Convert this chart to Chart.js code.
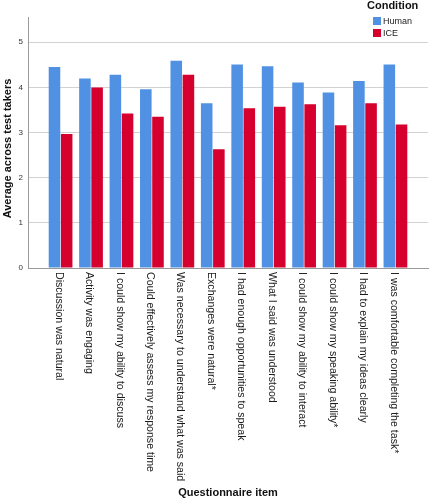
<!DOCTYPE html>
<html>
<head>
<meta charset="utf-8">
<script src="https://cdn.jsdelivr.net/npm/chart.js@4/dist/chart.umd.min.js"></script>
<style>
html,body{margin:0;padding:0;background:#fff;}
#wrap{width:430px;height:500px;position:relative;}
</style>
</head>
<body>
<div id="wrap"><canvas id="c" width="430" height="500"></canvas></div>
<script>
const items = [
  "Discussion was natural",
  "Activity was engaging",
  "I could show my ability to discuss",
  "Could effectively assess my response time",
  "Was necessary to understand what was said",
  "Exchanges were natural*",
  "I had enough opportunities to speak",
  "What I said was understood",
  "I could show my ability to interact",
  "I could show my speaking ability*",
  "I had to explain my ideas clearly",
  "I was comfortable completing the task*"
];
const humanValues = [4.45, 4.20, 4.28, 3.96, 4.59, 3.65, 4.51, 4.47, 4.11, 3.89, 4.14, 4.51];
const iceValues   = [2.97, 4.00, 3.42, 3.35, 4.28, 2.63, 3.54, 3.57, 3.63, 3.16, 3.65, 3.18];
const yTicks = [0, 1, 2, 3, 4, 5];
const seriesNames = ["Human", "ICE"];
const legendTitle = "Condition";
const yTitle = "Average across test takers";
const xTitle = "Questionnaire item";

const BLUE = "#5091e3";
const RED = "#d5002e";
const FONT = "'Liberation Sans', Arial, sans-serif";

const xLabelPlugin = {
  id: 'xLabels',
  afterDraw(chart) {
    const ctx = chart.ctx;
    const xs = chart.scales.x;
    ctx.save();
    ctx.font = "10.6px " + FONT;
    ctx.fillStyle = "#1a1a1a";
    ctx.textAlign = "left";
    ctx.textBaseline = "middle";
    items.forEach((lab, i) => {
      const px = xs.getPixelForValue(i);
      ctx.save();
      ctx.translate(px - 2, xs.top + 4);
      ctx.rotate(Math.PI / 2);
      ctx.fillText(lab, 0, 0);
      ctx.restore();
    });
    // y axis title
    const ys = chart.scales.y;
    ctx.save();
    ctx.font = "bold 11px " + FONT;
    ctx.fillStyle = "#111";
    ctx.textAlign = "center";
    ctx.textBaseline = "middle";
    ctx.translate(8, (ys.top + ys.bottom) / 2 + 6);
    ctx.rotate(-Math.PI / 2);
    ctx.fillText(yTitle, 0, 0);
    ctx.restore();
    ctx.restore();
  }
};

const legendPlugin = {
  id: 'customLegend',
  afterDraw(chart) {
    const ctx = chart.ctx;
    ctx.save();
    ctx.font = "bold 11px " + FONT;
    ctx.fillStyle = "#111";
    ctx.textAlign = "left";
    ctx.textBaseline = "middle";
    ctx.fillText(legendTitle, 367, 6);
    ctx.font = "9px " + FONT;
    chart.data.datasets.forEach((ds, i) => {
      const y = 17 + i * 12;
      ctx.fillStyle = ds.backgroundColor;
      ctx.fillRect(373, y, 8, 8);
      ctx.fillStyle = "#222";
      ctx.fillText(ds.label, 383, y + 4.5);
    });
    ctx.restore();
  }
};

new Chart(document.getElementById('c'), {
  type: 'bar',
  data: {
    datasets: [
      { label: seriesNames[0], data: humanValues.map((v, i) => ({x: i, y: v})), backgroundColor: BLUE, borderWidth: 0 },
      { label: seriesNames[1], data: iceValues.map((v, i) => ({x: i, y: v})), backgroundColor: RED, borderWidth: 0 }
    ]
  },
  options: {
    responsive: false,
    animation: false,
    layout: { padding: { top: 17, right: 2, left: 0, bottom: 0 } },
    datasets: { bar: { categoryPercentage: 0.8, barPercentage: 0.95 } },
    plugins: { legend: { display: false }, tooltip: { enabled: false } },
    scales: {
      x: {
        type: 'linear',
        min: -1.07,
        max: 12.07,
        offset: false,
        afterBuildTicks: s => { s.ticks = items.map((_, i) => ({ value: i })); },
        afterFit: s => { s.height = 232; },
        ticks: { display: false },
        grid: { display: false },
        border: { display: true, color: '#9a9a9a', width: 1 },
        title: { display: true, text: xTitle, font: { family: FONT, size: 11, weight: 'bold' }, color: '#111', padding: { top: 0, bottom: 0 } }
      },
      y: {
        min: 0,
        max: 5.56,
        afterBuildTicks: s => { s.ticks = yTicks.map(v => ({ value: v })); },
        afterFit: s => { s.width = 28; },
        ticks: { font: { family: FONT, size: 8 }, color: '#333', padding: 5 },
        grid: { color: '#d2d2d2', drawTicks: false, lineWidth: 1 },
        border: { display: true, color: '#9a9a9a', width: 1 },
        title: { display: false }
      }
    }
  },
  plugins: [xLabelPlugin, legendPlugin]
});
</script>
</body>
</html>
